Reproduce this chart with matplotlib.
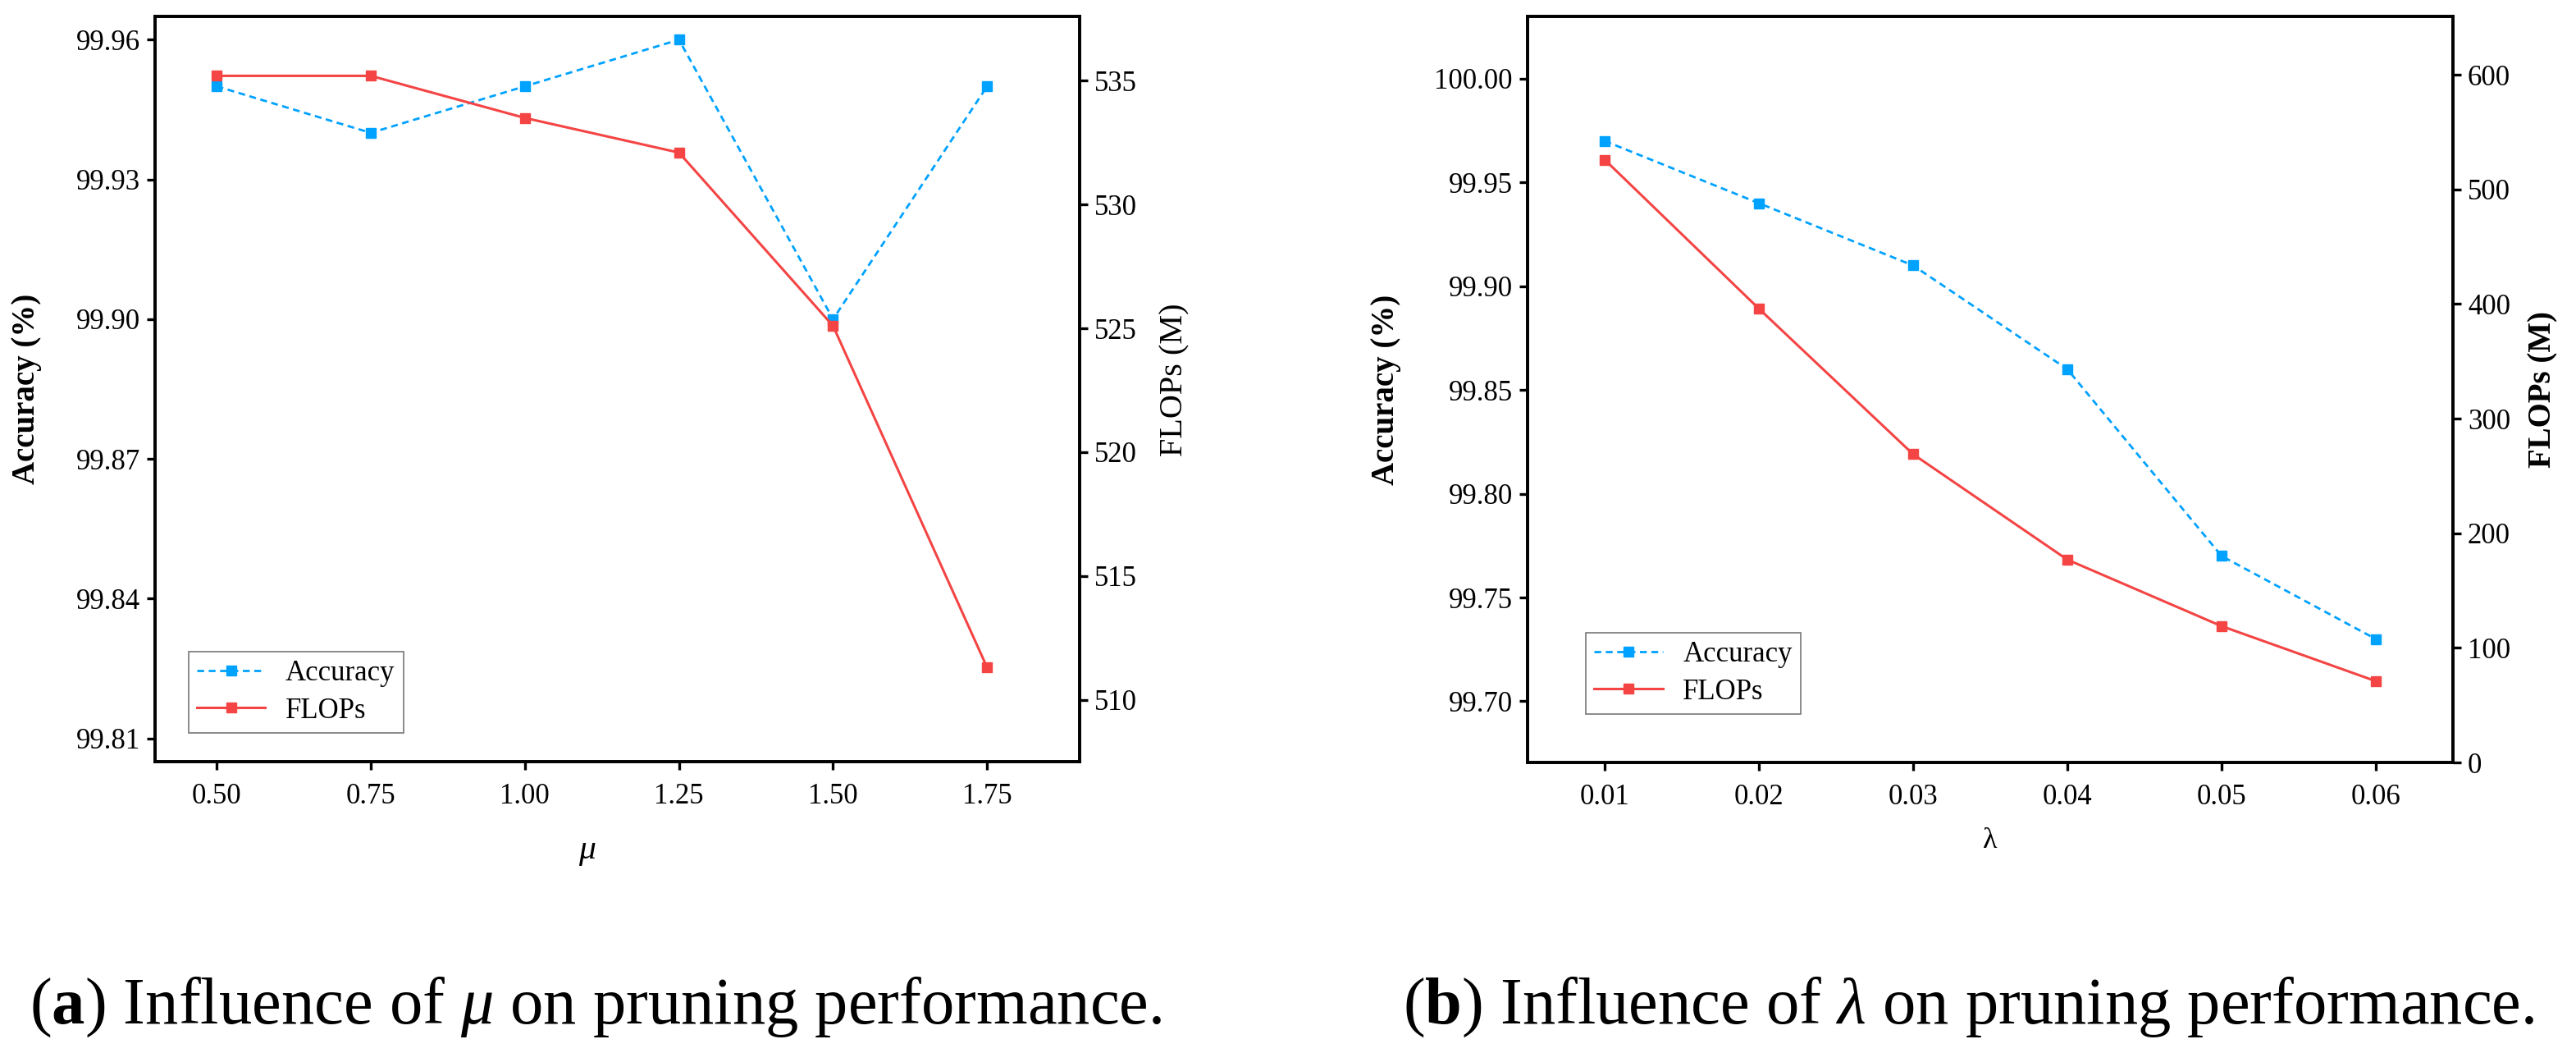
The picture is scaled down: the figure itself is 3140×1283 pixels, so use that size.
import matplotlib
matplotlib.use("Agg")
import matplotlib.pyplot as plt
from matplotlib.ticker import FormatStrFormatter, MultipleLocator

plt.rcParams['font.family'] = ['Liberation Serif', 'DejaVu Serif']
plt.rcParams['mathtext.fontset'] = 'custom'
plt.rcParams['mathtext.rm'] = 'Liberation Serif'
plt.rcParams['mathtext.it'] = 'Liberation Serif:italic'
plt.rcParams['mathtext.bf'] = 'Liberation Serif:bold'

# ---- data ----
mu_values = [0.50, 0.75, 1.00, 1.25, 1.50, 1.75]
mu_accuracy = [99.95, 99.94, 99.95, 99.96, 99.90, 99.95]
mu_flops = [535.2, 535.2, 533.5, 532.1, 525.1, 511.3]

lam_values = [0.01, 0.02, 0.03, 0.04, 0.05, 0.06]
lam_accuracy = [99.97, 99.94, 99.91, 99.86, 99.77, 99.73]
lam_flops = [526, 396, 269, 177, 119, 71]

series_labels = ["Accuracy", "FLOPs"]
captions = [r"($\mathbf{a}$) Influence of $\mu$ on pruning performance.",
            r"($\mathbf{b}$) Influence of $\lambda$ on pruning performance."]

BLUE = '#00a2ff'
RED = '#f44444'
TICK_FS = 25
LABEL_FS = 28

fig = plt.figure(figsize=(31.4, 12.83), dpi=100)

def style_axes(ax):
    for s in ax.spines.values():
        s.set_linewidth(2.6)
    ax.tick_params(axis='both', which='major', direction='out', length=7,
                   width=2.4, labelsize=TICK_FS, pad=6)

def make_panel(rect, x, acc, flops, xlim, acc_lim, acc_step, fl_lim, fl_step,
               xlabel, xlabel_kw, xlabel_pos, acc_lab_x, fl_lab, leg_anchor):
    ax = fig.add_axes(rect)
    ax2 = ax.twinx()
    l1, = ax.plot(x, acc, color=BLUE, linestyle=(0, (3, 2)), linewidth=2.0,
                  marker='s', markersize=9, label=series_labels[0])
    l2, = ax2.plot(x, flops, color=RED, linestyle='-', linewidth=2.2,
                   marker='s', markersize=9, label=series_labels[1])
    ax.set_xlim(*xlim)
    ax.set_xticks(x)
    ax.xaxis.set_major_formatter(FormatStrFormatter('%.2f'))
    ax.set_ylim(*acc_lim)
    ax.yaxis.set_major_locator(MultipleLocator(acc_step))
    ax.yaxis.set_major_formatter(FormatStrFormatter('%.2f'))
    ax2.set_ylim(*fl_lim)
    ax2.yaxis.set_major_locator(MultipleLocator(fl_step))
    style_axes(ax)
    style_axes(ax2)
    ax.tick_params(axis='x', pad=12)
    ax.set_ylabel("Accuracy (%)", fontsize=LABEL_FS, fontweight='bold', va='center')
    ax.yaxis.set_label_coords(acc_lab_x, 0.5)
    ax2.set_ylabel("FLOPs (M)", fontsize=fl_lab[1], fontweight=fl_lab[2], va='center')
    ax2.yaxis.set_label_coords(fl_lab[0], fl_lab[3])
    ax.set_xlabel(xlabel, va='center', **xlabel_kw)
    ax.xaxis.set_label_coords(*xlabel_pos)
    leg = ax2.legend(handles=[l1, l2], loc='lower left', bbox_to_anchor=leg_anchor,
                     borderaxespad=0, fontsize=TICK_FS, frameon=True, fancybox=False,
                     handlelength=2.4, handletextpad=0.7, labelspacing=0.35,
                     borderpad=0.3)
    leg.get_frame().set_edgecolor('#555555')
    leg.get_frame().set_linewidth(1.2)
    return ax, ax2

make_panel([0.0602, 0.2767, 0.3589, 0.7077], mu_values, mu_accuracy, mu_flops,
           (0.40, 1.90), (99.805, 99.965), 0.03, (507.5, 537.6), 5,
           r"$\mu$", dict(fontsize=30), (0.467, -0.121), -0.139,
           (1.103, 29, 'normal', 0.512), (0.036, 0.0385))

make_panel([0.5930, 0.2759, 0.3592, 0.7085], lam_values, lam_accuracy, lam_flops,
           (0.005, 0.065), (99.6705, 100.030), 0.05, (0, 651), 100,
           "λ", dict(fontsize=26), (0.5, -0.105), -0.153,
           (1.0975, LABEL_FS, 'bold', 0.5), (0.063, 0.065))

fig.text(726 / 3140, 36 / 1283, captions[0], ha='center', va='baseline', fontsize=58)
fig.text(2400 / 3140, 36 / 1283, captions[1], ha='center', va='baseline', fontsize=58)

fig.savefig("out.png", dpi=100)
